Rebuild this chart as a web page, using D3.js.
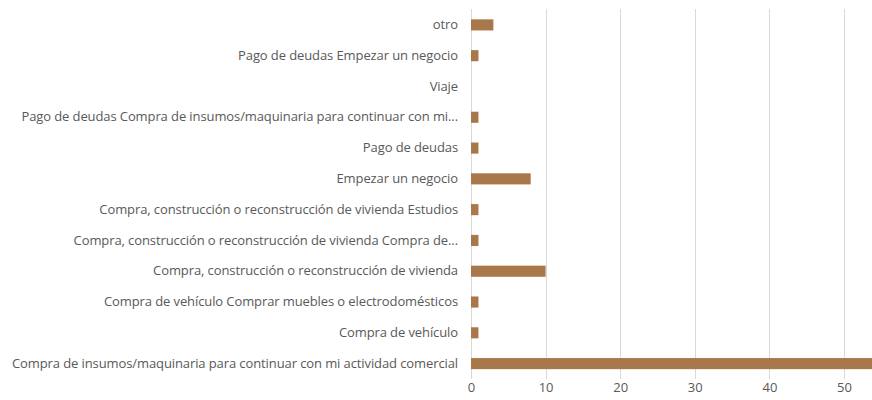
<!DOCTYPE html>
<html>
<head>
<meta charset="utf-8">
<script src="https://cdn.jsdelivr.net/npm/d3@7"></script>
<style>
  html, body { margin: 0; padding: 0; background: #ffffff; }
  svg { display: block; }
  text { font-family: "Open Sans", "Lato", sans-serif; fill: #595959; }
</style>
</head>
<body>
<svg id="chart" width="872" height="400"></svg>
<script>
// Categories listed bottom to top
const categories = [
  "Compra de insumos/maquinaria para continuar con mi actividad comercial",
  "Compra de vehículo",
  "Compra de vehículo Comprar muebles o electrodomésticos",
  "Compra, construcción o reconstrucción de vivienda",
  "Compra, construcción o reconstrucción de vivienda Compra de...",
  "Compra, construcción o reconstrucción de vivienda Estudios",
  "Empezar un negocio",
  "Pago de deudas",
  "Pago de deudas Compra de insumos/maquinaria para continuar con mi...",
  "Viaje",
  "Pago de deudas Empezar un negocio",
  "otro"
];
const values = [54, 1, 1, 10, 1, 1, 8, 1, 1, 0, 1, 3];
const xTicks = [0, 10, 20, 30, 40, 50];

const svg = d3.select("#chart");
const x0 = 471, pxPerUnit = 7.46;
const x = d3.scaleLinear().domain([0, 60]).range([x0, x0 + 60 * pxPerUnit]);
const y = d3.scaleBand().domain(categories.slice().reverse()).range([9.5, 379]).paddingInner(0.64).paddingOuter(0.32);

// gridlines
svg.append("g").selectAll("line").data(xTicks).join("line")
  .attr("x1", d => Math.round(x(d)) + 0.5).attr("x2", d => Math.round(x(d)) + 0.5)
  .attr("y1", 9).attr("y2", 379)
  .attr("stroke", "#d9d9d9").attr("stroke-width", 1);

// bars
svg.append("g").selectAll("rect").data(categories).join("rect")
  .attr("x", x(0))
  .attr("y", d => y(d))
  .attr("width", (d, i) => x(values[i]) - x(0))
  .attr("height", y.bandwidth())
  .attr("fill", "#a8774a");

// x-axis labels
const xAxis = d3.axisBottom(x).tickValues(xTicks).tickSize(0).tickPadding(0);
const gx = svg.append("g").attr("transform", "translate(0,383)").call(xAxis);
gx.select(".domain").remove();
gx.selectAll("text").style("font-family", "'Open Sans', sans-serif").style("font-size", "13px").attr("fill", "#595959");

// y-axis labels
const yAxis = d3.axisLeft(y).tickSize(0).tickPadding(13);
const gy = svg.append("g").attr("transform", `translate(${x0},0)`).call(yAxis);
gy.select(".domain").remove();
gy.selectAll("text").style("font-family", "'Open Sans', sans-serif").style("font-size", "13px").style("letter-spacing", "-0.1px").attr("fill", "#595959");
</script>
</body>
</html>
